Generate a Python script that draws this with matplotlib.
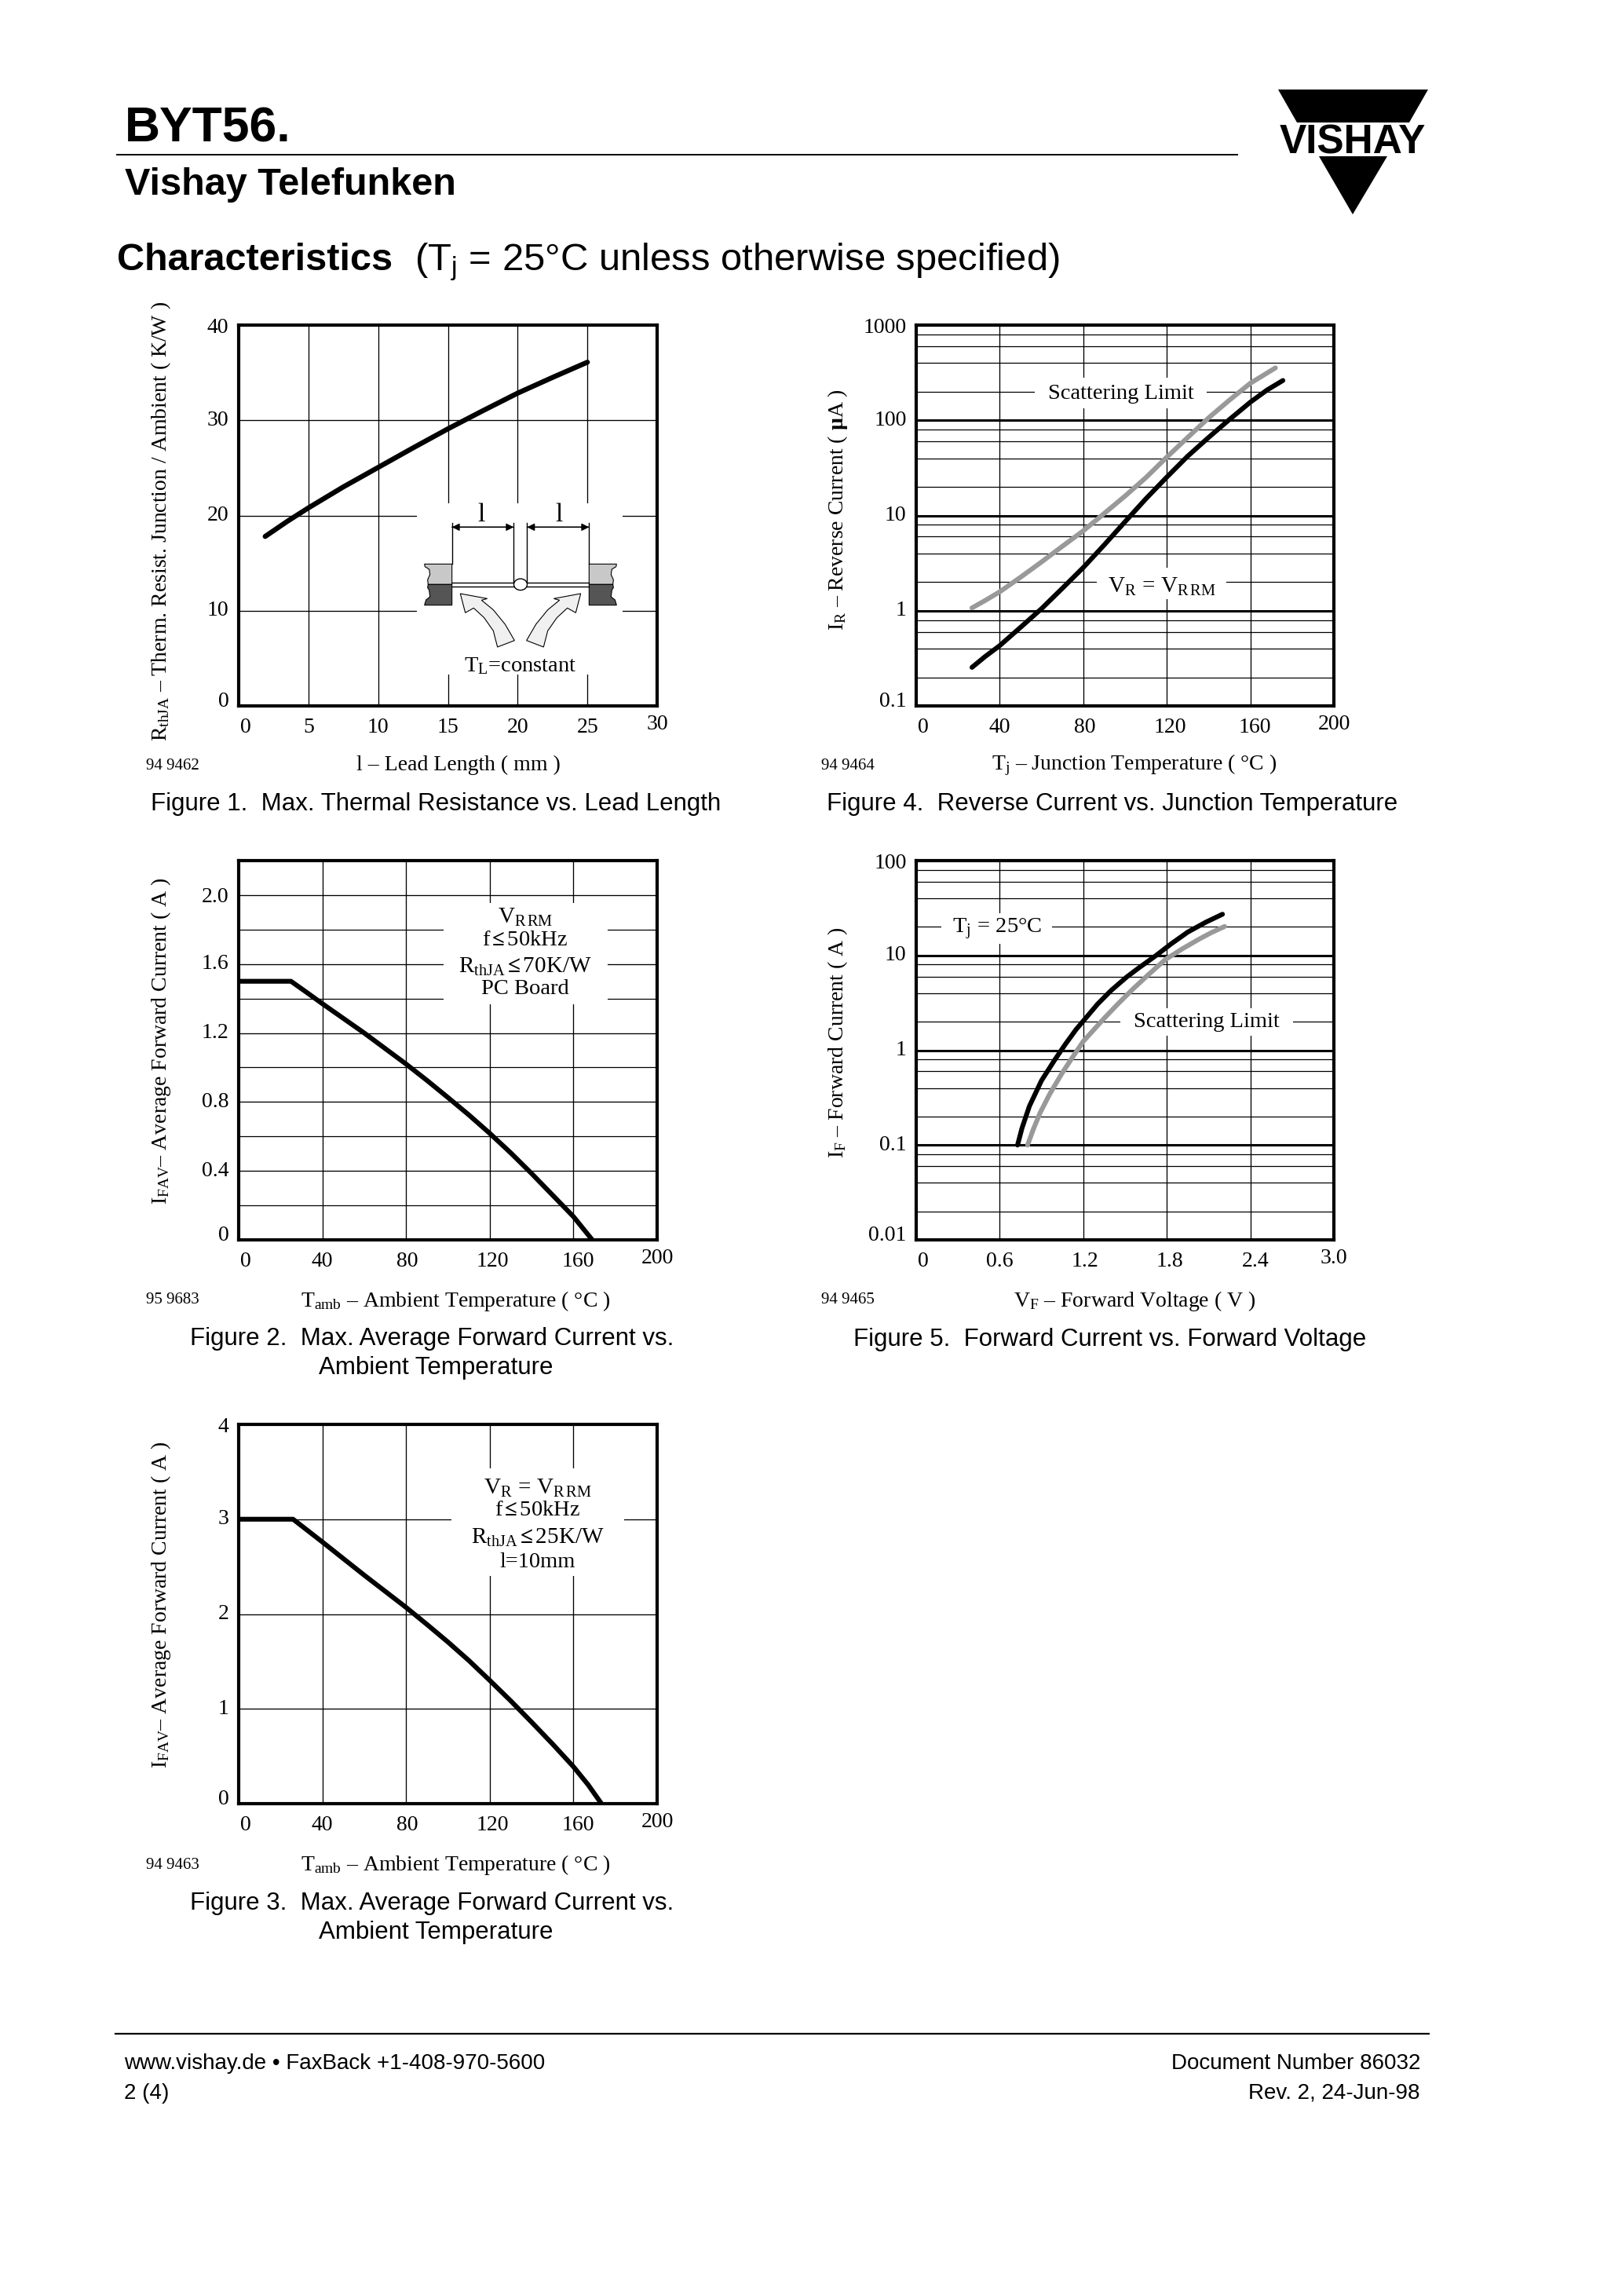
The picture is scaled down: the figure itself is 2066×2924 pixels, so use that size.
import matplotlib
matplotlib.use("Agg")
import matplotlib.pyplot as plt
from matplotlib.patches import Polygon, Rectangle, Ellipse
from matplotlib.transforms import ScaledTranslation

plt.rcParams["font.family"] = "Liberation Serif"
plt.rcParams["mathtext.fontset"] = "custom"
plt.rcParams["mathtext.rm"] = "Liberation Serif"
plt.rcParams["mathtext.it"] = "Liberation Serif:italic"
plt.rcParams["mathtext.bf"] = "Liberation Serif:bold"

W, H = 2066, 2924
SANS = "Liberation Sans"

# figure 1
f1_x = [1.9, 3.5, 5, 7.5, 10, 12.5, 15, 17.5, 20, 22.5, 25]
f1_y = [17.8, 19.4, 20.8, 23.0, 25.05, 27.1, 29.1, 31.0, 32.85, 34.5, 36.1]
# figure 2
f2_x = [0, 25, 32, 40, 50, 60, 70, 80, 90, 100, 110, 120, 130, 140, 150, 160, 169]
f2_y = [1.5, 1.5, 1.44, 1.37, 1.285, 1.2, 1.11, 1.02, 0.925, 0.826, 0.725, 0.618, 0.505, 0.385, 0.26, 0.135, 0]
# figure 3
f3_x = [0, 26, 33, 40, 50, 60, 70, 80, 90, 100, 110, 120, 130, 140, 150, 160, 167, 173.4]
f3_y = [3, 3, 2.88, 2.76, 2.585, 2.41, 2.24, 2.07, 1.89, 1.705, 1.51, 1.3, 1.085, 0.86, 0.63, 0.39, 0.2, 0]
# figure 4
f4_x = [26.7, 33, 40, 50, 60, 70, 80, 90, 100, 110, 120, 130, 140, 150, 160, 168, 175.6]
f4_y = [0.254, 0.33, 0.43, 0.67, 1.05, 1.72, 2.84, 4.9, 8.6, 15, 25.3, 42, 66, 102, 155, 208, 262]
f4_gray_x = [26.7, 33, 40, 50, 60, 70, 80, 90, 100, 110, 120, 130, 140, 150, 160, 172]
f4_gray_y = [1.07, 1.28, 1.58, 2.25, 3.25, 4.75, 6.9, 10.5, 16, 25, 41, 66, 106, 163, 245, 355]
# figure 5
f5_x = [0.728, 0.76, 0.813, 0.9, 0.994, 1.07, 1.149, 1.304, 1.4, 1.51, 1.6, 1.717, 1.83, 1.95, 2.08, 2.2]
f5_y = [0.1, 0.151, 0.257, 0.479, 0.787, 1.15, 1.66, 3.08, 4.27, 5.89, 7.41, 9.84, 13.2, 17.6, 22.4, 27.2]
f5_gray_x = [0.8, 0.84, 0.89, 0.96, 1.045, 1.12, 1.2, 1.355, 1.45, 1.56, 1.67, 1.79, 1.91, 2.03, 2.12, 2.215]
f5_gray_y = [0.1, 0.145, 0.219, 0.347, 0.565, 0.832, 1.24, 2.21, 3.09, 4.47, 6.31, 9.06, 11.7, 14.8, 17.4, 20.2]

temp_ticks = [0, 40, 80, 120, 160, 200]
temp_labels = ["0", "40", "80", "120", "160", "200"]
f1_xticks = [0, 5, 10, 15, 20, 25, 30]
f1_yticks = [0, 10, 20, 30, 40]
f2_yticks = [0, 0.4, 0.8, 1.2, 1.6, 2.0]
f2_ylabels = ["0", "0.4", "0.8", "1.2", "1.6", "2.0"]
f2_yminor = [0.2, 0.6, 1.0, 1.4, 1.8]
f3_yticks = [0, 1, 2, 3, 4]
f4_yticks = [0.1, 1, 10, 100, 1000]
f4_ylabels = ["0.1", "1", "10", "100", "1000"]
f5_xticks = [0, 0.6, 1.2, 1.8, 2.4, 3.0]
f5_xlabels = ["0", "0.6", "1.2", "1.8", "2.4", "3.0"]
f5_yticks = [0.01, 0.1, 1, 10, 100]
f5_ylabels = ["0.01", "0.1", "1", "10", "100"]

fig = plt.figure(figsize=(W / 100, H / 100), dpi=100, facecolor="white")


def nudge(label, dx, dy):
    # offsets in pixels, y up
    label.set_transform(label.get_transform() + ScaledTranslation(dx / 100, dy / 100, fig.dpi_scale_trans))


def make_axes(box, xlim, ylim, xticks, xlabels, yticks, ylabels, log=False, yminor=None):
    left, top, right, bottom = box
    ax = fig.add_axes([left / W, 1 - bottom / H, (right - left) / W, (bottom - top) / H])
    if log:
        ax.set_yscale("log")
    ax.set_xlim(xlim)
    ax.set_ylim(ylim)
    ax.set_xticks(xticks)
    ax.set_xticklabels(xlabels)
    ax.set_yticks(yticks)
    ax.set_yticklabels(ylabels)
    ax.minorticks_off()
    ax.tick_params(length=0, labelsize=20, which="both")
    ax.tick_params(axis="x", pad=11)
    ax.tick_params(axis="y", pad=9)
    ax.grid(axis="x", color="black", lw=0.95)
    if log:
        minors = [d * m for d in yticks[:-1] for m in (2, 4, 6, 8)]
        ax.set_yticks(minors, minor=True)
        ax.set_yticklabels([], minor=True)
        ax.grid(axis="y", which="minor", color="black", lw=0.9)
        ax.grid(axis="y", which="major", color="black", lw=2.2)
    else:
        if yminor:
            ax.set_yticks(yminor, minor=True)
            ax.set_yticklabels([], minor=True)
            ax.grid(axis="y", which="minor", color="black", lw=0.9)
        ax.grid(axis="y", which="major", color="black", lw=0.95)
    ax.set_axisbelow(True)
    for s in ax.spines.values():
        s.set_linewidth(3)
    xl = ax.get_xticklabels()
    yl = ax.get_yticklabels()
    # the original labels sit a little off the ticks
    if len(xl) == 6:
        for lab, dx in zip(xl, (9, 0, 2, 4, 6, 0)):
            nudge(lab, dx, 0)
    else:
        nudge(xl[0], 9, 0)
    nudge(xl[-1], 0, 4)
    for lab in yl[1:-1]:
        nudge(lab, 0, 3)
    nudge(yl[0], 0, 9)
    return ax


ax1 = make_axes((304, 414, 837, 899), (0, 30), (0, 40), f1_xticks, [str(v) for v in f1_xticks], f1_yticks, [str(v) for v in f1_yticks])
ax1.plot(f1_x, f1_y, color="black", lw=4.6, solid_capstyle="round")

ax2 = make_axes((304, 1096, 837, 1579), (0, 200), (0, 2.2), temp_ticks, temp_labels, f2_yticks, f2_ylabels, yminor=f2_yminor)
ax2.plot(f2_x, f2_y, color="black", lw=4.4, solid_capstyle="butt", clip_on=False)

ax3 = make_axes((304, 1814, 837, 2297), (0, 200), (0, 4), temp_ticks, temp_labels, f3_yticks, [str(v) for v in f3_yticks])
ax3.plot(f3_x, f3_y, color="black", lw=4.4, solid_capstyle="butt")

ax4 = make_axes((1167, 414, 1699, 899), (0, 200), (0.1, 1000), temp_ticks, temp_labels, f4_yticks, f4_ylabels, log=True)
ax4.plot(f4_gray_x, f4_gray_y, color="#999999", lw=4.4, solid_capstyle="round")
ax4.plot(f4_x, f4_y, color="black", lw=4.4, solid_capstyle="round")

ax5 = make_axes((1167, 1096, 1699, 1579), (0, 3), (0.01, 100), f5_xticks, f5_xlabels, f5_yticks, f5_ylabels, log=True)
ax5.plot(f5_gray_x, f5_gray_y, color="#999999", lw=4.4, solid_capstyle="round")
ax5.plot(f5_x, f5_y, color="black", lw=4.4, solid_capstyle="round")

# page overlay in pixel coordinates: page text, label cut-outs, lead diagram, logo
page = fig.add_axes([0, 0, 1, 1], zorder=5)
page.set_xlim(0, W)
page.set_ylim(H, 0)
page.axis("off")
page.patch.set_alpha(0)


def txt(x, y, s, size=20, ha="center", va="center", family="Liberation Serif", **kw):
    page.text(x, y, s, fontsize=size, ha=ha, va=va, family=family, **kw)


def white_box(x0, y0, x1, y1):
    page.add_patch(Rectangle((x0, y0), x1 - x0, y1 - y0, fc="white", ec="none"))


# header
txt(159, 164, "BYT56.", size=45, ha="left", family=SANS, weight="bold")
page.plot([149, 1576], [197, 197], color="black", lw=1.4)
txt(159, 235, "Vishay Telefunken", size=35, ha="left", family=SANS, weight="bold")
txt(149, 331, "Characteristics", size=35, ha="left", family=SANS, weight="bold")
txt(528, 344, r"(T$_{\mathregular{j}}$ = 25°C unless otherwise specified)", size=35.3, ha="left", va="baseline", family=SANS)

# logo
page.add_patch(Polygon([(1628, 114), (1819, 114), (1795, 156), (1652, 156)], fc="black", ec="none"))
page.add_patch(Polygon([(1680, 199), (1767, 199), (1723, 273)], fc="black", ec="none"))
txt(1723, 196, "VISHAY", size=37, va="baseline", family=SANS, weight="bold")

# y labels
txt(205, 664, r"$\mathrm{R_{thJA}}$ – Therm. Resist. Junction / Ambient ( K/W )", rotation=90)
txt(1067, 649, r"$\mathrm{I_{R}}$ – Reverse Current ( $\mathbf{µ}$A )", rotation=90)
txt(205, 1326, r"$\mathrm{I_{FAV}}$– Average Forward Current ( A )", rotation=90)
txt(1067, 1328, r"$\mathrm{I_{F}}$ – Forward Current ( A )", rotation=90)
txt(205, 2044, r"$\mathrm{I_{FAV}}$– Average Forward Current ( A )", rotation=90)

# x labels and ids
txt(584, 974, "l – Lead Length ( mm )")
txt(1445, 974, r"$\mathrm{T_{j}}$ – Junction Temperature ( °C )")
txt(580, 1657, r"$\mathrm{T_{amb}}$ – Ambient Temperature ( °C )")
txt(1445, 1657, r"$\mathrm{V_{F}}$ – Forward Voltage ( V )")
txt(580, 2375, r"$\mathrm{T_{amb}}$ – Ambient Temperature ( °C )")
txt(186, 975, "94 9462", size=15, ha="left")
txt(1046, 975, "94 9464", size=15, ha="left")
txt(186, 1656, "95 9683", size=15, ha="left")
txt(1046, 1656, "94 9465", size=15, ha="left")
txt(186, 2376, "94 9463", size=15, ha="left")

# captions
txt(192, 1024, "Figure 1.  Max. Thermal Resistance vs. Lead Length", size=22.5, ha="left", family=SANS)
txt(1053, 1024, "Figure 4.  Reverse Current vs. Junction Temperature", size=22.5, ha="left", family=SANS)
txt(242, 1705, "Figure 2.  Max. Average Forward Current vs.", size=22.5, ha="left", family=SANS)
txt(406, 1742, "Ambient Temperature", size=22.5, ha="left", family=SANS)
txt(1087, 1706, "Figure 5.  Forward Current vs. Forward Voltage", size=22.5, ha="left", family=SANS)
txt(242, 2424, "Figure 3.  Max. Average Forward Current vs.", size=22.5, ha="left", family=SANS)
txt(406, 2461, "Ambient Temperature", size=22.5, ha="left", family=SANS)

# footer
page.plot([147, 1820], [2590, 2590], color="black", lw=1.6)
txt(158, 2628, "www.vishay.de • FaxBack +1-408-970-5600", size=20, ha="left", family=SANS)
txt(158, 2666, "2 (4)", size=20, ha="left", family=SANS)
txt(1809, 2628, "Document Number 86032", size=20, ha="right", family=SANS)
txt(1809, 2666, "Rev. 2, 24-Jun-98", size=20, ha="right", family=SANS)

# annotations with their white cut-outs
white_box(1318, 481, 1537, 520)
txt(1428, 501, "Scattering Limit", size=20.5)
white_box(1397, 723, 1562, 763)
txt(1480, 747, r"$\mathrm{V_{R}\,=\,V_{R\,RM}}$", size=21)
white_box(565, 1150, 774, 1279)
txt(669, 1168, r"$\mathrm{V_{R\,RM}}$", size=21)
txt(669, 1197, r"f$\,\mathbf{≤}\,$50kHz", size=20.5)
txt(669, 1231, r"$\mathrm{R_{thJA}}\,\mathbf{≤}\,$70K/W", size=21)
txt(669, 1260, "PC Board", size=20.5)
white_box(1199, 1163, 1340, 1202)
txt(1270, 1183, r"$\mathrm{T_{j}}\,=\,$25°C", size=20.5)
white_box(1427, 1284, 1647, 1319)
txt(1537, 1302, "Scattering Limit", size=20.5)
white_box(575, 1870, 795, 2007)
txt(685, 1895, r"$\mathrm{V_{R}\,=\,V_{R\,RM}}$", size=21)
txt(685, 1923, r"f$\,\mathbf{≤}\,$50kHz", size=20.5)
txt(685, 1958, r"$\mathrm{R_{thJA}}\,\mathbf{≤}\,$25K/W", size=21)
txt(685, 1989, "l=10mm", size=20.5)

# lead diagram in figure 1
white_box(531, 641, 793, 859)


def zp(pts):
    return [(500 + x / 3, 620 + y / 3) for x, y in pts]


left_top = [(122, 295), (227, 295), (227, 373), (136, 373), (134, 355), (143, 335), (140, 315), (124, 305)]
left_bot = [(136, 373), (227, 373), (227, 452), (122, 452), (128, 432), (143, 420), (140, 395), (134, 385)]
left_arrow = [(259, 408), (362, 427), (340, 433), (385, 470), (430, 525), (466, 587), (401, 612), (385, 550), (350, 500), (310, 463), (278, 481)]


def mirror(pts):
    return [(978 - x, y) for x, y in pts]


for pts in (left_top, mirror(left_top)):
    page.add_patch(Polygon(zp(pts), fc="#c8c8c8", ec="black", lw=0.8))
for pts in (left_bot, mirror(left_bot)):
    page.add_patch(Polygon(zp(pts), fc="#555555", ec="black", lw=0.8))
for pts in (left_arrow, mirror(left_arrow)):
    page.add_patch(Polygon(zp(pts), fc="#f0f0f0", ec="black", lw=0.8))

for zx, y0, y1 in [(227, 138, 295), (463, 138, 367), (514, 138, 367), (751, 138, 295)]:
    page.plot(*zip(*zp([(zx, y0), (zx, y1)])), color="black", lw=1)
for zy in (367, 380):
    page.plot(*zip(*zp([(227, zy), (751, zy)])), color="black", lw=1)
cx, cy = zp([(489, 373)])[0]
page.add_patch(Ellipse((cx, cy), 17, 14.5, fc="white", ec="black", lw=1, zorder=3))

for a, b in [(227, 463), (514, 751)]:
    (x0, y0), (x1, y1) = zp([(a, 154), (b, 154)])
    page.annotate("", xy=(x0, y0), xytext=(x1, y1), arrowprops=dict(arrowstyle="<|-", color="black", lw=1, shrinkA=0, shrinkB=0, mutation_scale=14))
    page.annotate("", xy=(x1, y1), xytext=(x0, y0), arrowprops=dict(arrowstyle="<|-", color="black", lw=1, shrinkA=0, shrinkB=0, mutation_scale=14))
txt(613, 656, "l", size=24)
txt(712, 656, "l", size=24)
txt(663, 848, r"$\mathrm{T_{L}}$=constant", size=20.5)

fig.savefig("out.png", dpi=100, facecolor="white")
